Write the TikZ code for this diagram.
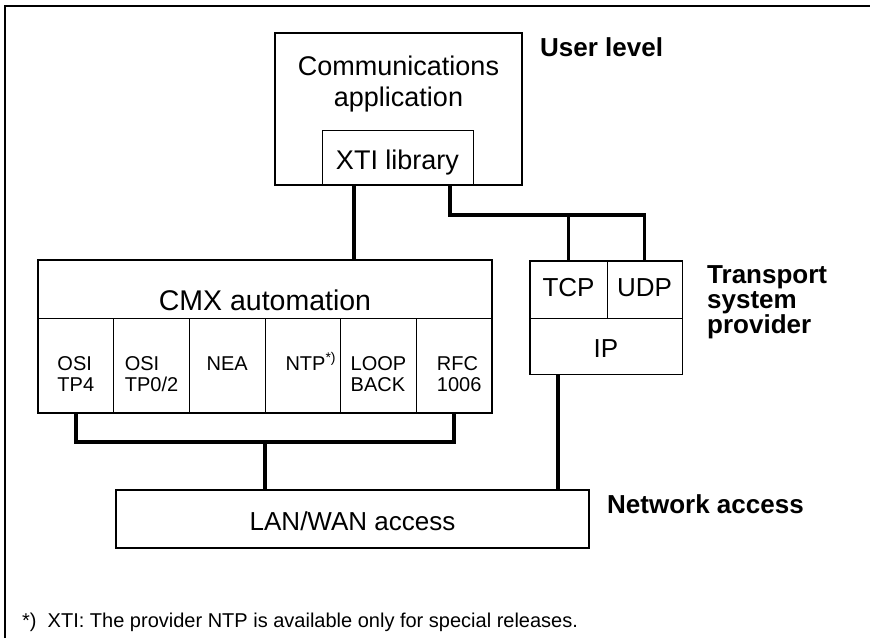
\documentclass[tikz,border=0pt]{standalone}
\usepackage{fontspec}
\setmainfont{Liberation Sans}
\usetikzlibrary{calc}

\begin{document}
\begin{tikzpicture}[x=1pt, y=-1pt,
        box/.style={draw, line width=1.5pt, inner sep=0pt},
        cell/.style={draw, line width=0.8pt, inner sep=0pt},
        bus/.style={line width=3.8pt},
        main/.style={font=\fontsize{27}{31}\selectfont, inner sep=0pt, anchor=base},
        proto/.style={font=\fontsize{20}{21}\selectfont, inner sep=0pt, anchor=base, align=left},
        level/.style={font=\bfseries\fontsize{26}{25}\selectfont, inner sep=0pt, anchor=base west, align=left},
        note/.style={font=\fontsize{20}{24}\selectfont, inner sep=0pt, anchor=base west}]

    \useasboundingbox (0, 0) rectangle (870, 638);
    \draw [line width=1.2pt] (5, 638) -- (5, 6) -- (870, 6);

    \node [cell, minimum width=151pt, minimum height=55pt] (xti) at (397.5, 157.5) {};
    \node [box, minimum width=247pt, minimum height=152pt] (app) at (398.5, 109) {};
    \node [main, align=center] (apptext) at (398.5, 106) {Communications\\application};
    \node [main] (xtitext) at (397.5, 169.5) {XTI library};
    \node [level] (user) at (540, 56) {User level};

    \node [box, minimum width=454pt, minimum height=153pt] (cmx) at (265, 336.5) {};
    \coordinate (cmxsplit) at (38, 318);
    \draw [cell] (cmxsplit) -- (cmxsplit -| cmx.east);
    \node [main, font=\fontsize{28.5}{31}\selectfont] (cmxtext) at (265, 310) {CMX automation};
    \foreach \txt/\ty/\tx [count=\i] in {{OSI\\TP4}/391/0, {OSI\\TP0/2}/391/0, NEA/370/0, {NTP\textsuperscript{*)}}/370/8, {LOOP\\BACK}/391/0, {RFC\\1006}/391/5} {
        \node [cell, minimum width=75.67pt, minimum height=95pt] (col\i) at ({38 + 75.67*(\i - 0.5)}, 365.5) {};
        \node [proto] (coltext\i) at ({38 + 75.67*(\i - 0.5) + \tx}, \ty) {\txt};
    }

    \node [cell, minimum width=77pt, minimum height=57pt] (tcp) at (568.5, 289.5) {};
    \node [cell, minimum width=75pt, minimum height=57pt] (udp) at (644.5, 289.5) {};
    \node [cell, minimum width=152pt, minimum height=56pt] (ip) at (606, 346) {};
    \draw [box] (tcp.north west) rectangle (ip.south east);
    \node [main, font=\fontsize{26}{30}\selectfont] (tcptext) at (568.5, 296) {TCP};
    \node [main, font=\fontsize{26}{30}\selectfont] (udptext) at (644.5, 296) {UDP};
    \node [main, font=\fontsize{26}{30}\selectfont] (iptext) at (606, 357) {IP};
    \node [level] (transport) at (707, 333) {Transport\\system\\provider};

    \node [box, minimum width=473pt, minimum height=58pt] (lan) at (352.5, 519) {};
    \node [main, font=\fontsize{26}{30}\selectfont] (lantext) at (352.5, 530) {LAN/WAN access};
    \node [level] (network) at (607, 513) {Network access};

    \coordinate (xtileft) at (354, 185);
    \coordinate (xtiright) at (450, 185);
    \coordinate (fork) at (568.5, 215);
    \draw [bus] (xtileft) -- (xtileft |- cmx.north);
    \draw [bus] (xtiright) |- (fork) -| (udp.north);
    \draw [bus] (fork) -- (tcp.north);

    \coordinate (busmid) at (265, 442);
    \draw [bus] (col1.south) |- (busmid) -| (col6.south);
    \draw [bus] (busmid) -- (busmid |- lan.north);
    \coordinate (ipout) at (558, 374);
    \draw [bus] (ipout) -- (ipout |- lan.north);

    \node [note] (footnote) at (22, 627) {*)\ \ XTI: The provider NTP is available only for special releases.};
\end{tikzpicture}
\end{document}
